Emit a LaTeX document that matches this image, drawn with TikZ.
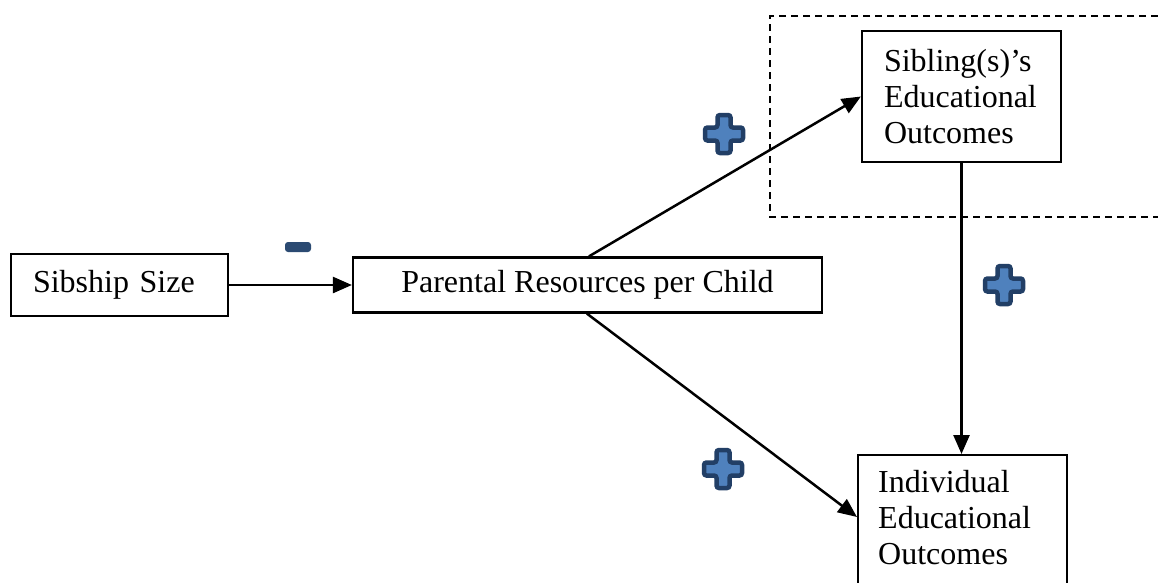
\documentclass[tikz,border=0pt]{standalone}
\usepackage{fontspec}
\setmainfont{Liberation Serif}
\usetikzlibrary{arrows.meta,calc}
\definecolor{plusfill}{HTML}{4F81BD}
\definecolor{plusline}{HTML}{223F66}
\definecolor{minusfill}{HTML}{2B4A72}
\tikzset{
  box/.style={draw, line width=2.2pt, inner ysep=0pt, font=\fontsize{32}{36}\selectfont},
  txt/.style={inner sep=0pt, align=left, font=\fontsize{32}{36}\selectfont},
  conn/.style={line width=2.5pt, -{Triangle[length=19pt,width=16pt]}},
  grp/.style={draw, dashed, dash pattern=on 7pt off 5pt, line width=1.6pt},
  plussign/.pic={
    \filldraw[fill=plusfill, draw=plusline, line width=4.5pt, rounded corners=2.5pt]
      (-6.5,-19) -- (6.5,-19) -- (6.5,-6.5) -- (19,-6.5) -- (19,6.5) -- (6.5,6.5)
      -- (6.5,19) -- (-6.5,19) -- (-6.5,6.5) -- (-19,6.5) -- (-19,-6.5) -- (-6.5,-6.5) -- cycle;
  }
}
\begin{document}
\begin{tikzpicture}[x=1pt,y=-1pt]
\clip (0,0) rectangle (1158,582);
\fill[white] (0,0) rectangle (1158,582);

% dashed group
\draw[grp] (1170,16) -- (770,16) -- (770,217) -- (1170,217);

% boxes
\node[box, minimum width=217pt, minimum height=62pt, text width=173pt, inner xsep=22pt, align=left]
  (sib) at (119.5,285) {Sibship Size};
\node[box, minimum width=469pt, minimum height=55pt, align=center]
  (par) at (587.5,285) {Parental Resources per Child};
\node[box, minimum width=199pt, minimum height=131pt, text width=155pt, inner xsep=22pt, align=left]
  (sibl) at (961.5,96.5) {Sibling(s)'s\\Educational\\Outcomes};
\node[box, anchor=north west, minimum width=209pt, minimum height=160pt]
  (ind) at (857,454) {};
\node[txt, anchor=north west] (indtxt) at (878,470) {Individual\\Educational\\Outcomes};

% connectors
\draw[conn] (sib.east) -- (par.west);
\coordinate (pup) at ($(par.north west)+(237,0)$);
\coordinate (pdn) at ($(par.south west)+(235,0)$);
\coordinate (indin) at (857,517);
\draw[conn] (pup) -- (sibl.west);
\draw[conn] (pdn) -- (indin);
\draw[conn] (sibl.south) -- (sibl.south |- ind.north);

% signs
\fill[minusfill, rounded corners=3pt] (285,242) rectangle (311,252);
\pic at (724,134) {plussign};
\pic at (1004,285) {plussign};
\pic at (723,469) {plussign};
\end{tikzpicture}
\end{document}
